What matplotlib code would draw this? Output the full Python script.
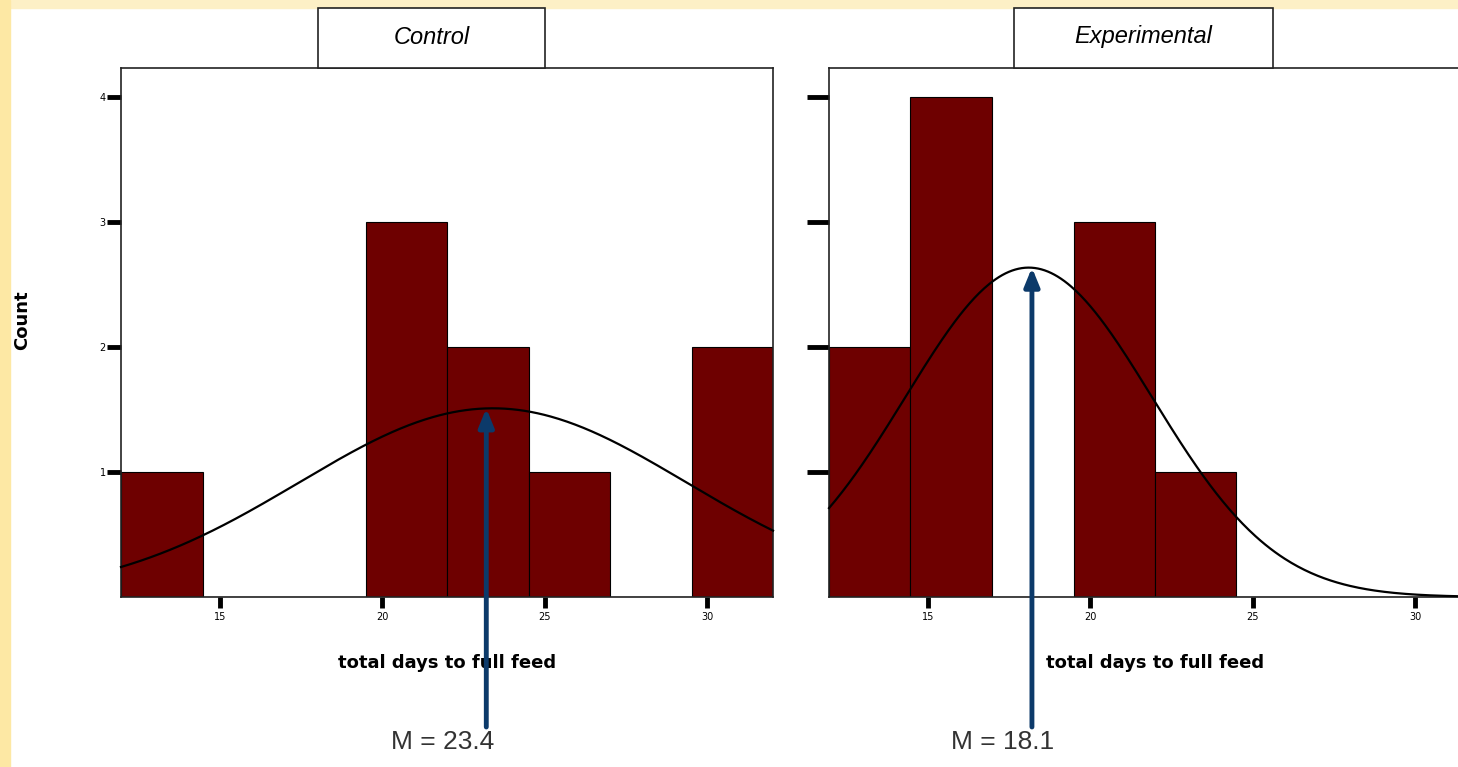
import numpy as np
import matplotlib.pyplot as plt
from matplotlib.patches import Rectangle

# histogram bins (days) shared by both groups
bin_edges = [11.95, 14.46, 16.97, 19.48, 21.99, 24.5, 27.01, 29.52, 32.03]
groups = ["Control", "Experimental"]
counts = {
    "Control": [1, 0, 0, 3, 2, 1, 0, 2],
    "Experimental": [2, 4, 0, 3, 1, 0, 0, 0],
}
means = {"Control": 23.4, "Experimental": 18.1}
sds = {"Control": 5.97, "Experimental": 3.8}
x_ticks = [15, 20, 25, 30]
y_ticks = [1, 2, 3, 4]

W, H = 1458, 767
fig = plt.figure(figsize=(W / 100, H / 100), dpi=100)
fig.patch.set_facecolor("white")

def px_box(x0, y0, x1, y1):
    # pixel box (top-left origin) -> figure fraction rect
    return (x0 / W, 1 - y1 / H, (x1 - x0) / W, (y1 - y0) / H)

# yellow slide border
fig.add_artist(Rectangle((0, 1 - 8 / H), 1, 8 / H, transform=fig.transFigure,
                         color="#fdf0c6", zorder=-5))
fig.add_artist(Rectangle((0, 0), 10 / W, 1, transform=fig.transFigure,
                         color="#fde8a4", zorder=-5))

panel_left = {"Control": 121, "Experimental": 829}
panel_w = 652
header = {"Control": (318, 545), "Experimental": (1014, 1273)}
# where the hand-drawn arrows and "M =" labels sit (data units)
arrow_x = {"Control": 23.2, "Experimental": 18.2}
label_x = {"Control": 21.85, "Experimental": 17.3}

bar_color = "#6e0000"
arrow_color = "#0c3a6a"

for g in groups:
    x0 = panel_left[g]
    ax = fig.add_axes(px_box(x0, 68, x0 + panel_w, 597))
    widths = np.diff(bin_edges)
    ax.bar(bin_edges[:-1], counts[g], width=widths, align="edge",
           color=bar_color, edgecolor="black", linewidth=0.8, zorder=2)

    xs = np.linspace(bin_edges[0], bin_edges[-1], 400)
    n = sum(counts[g])
    bw = widths.mean()
    pdf = np.exp(-0.5 * ((xs - means[g]) / sds[g]) ** 2) / (sds[g] * np.sqrt(2 * np.pi))
    curve = n * bw * pdf
    ax.plot(xs, curve, color="black", linewidth=1.6, zorder=3, clip_on=False)

    ax.set_xlim(bin_edges[0], bin_edges[-1])
    ax.set_ylim(0, 4.232)
    ax.set_xticks(x_ticks)
    ax.set_xticklabels([str(t) for t in x_ticks], fontsize=7)
    ax.set_yticks(y_ticks)
    if g == "Control":
        ax.set_yticklabels([str(t) for t in y_ticks], fontsize=7)
        ax.tick_params(axis="y", length=10, width=3.5, pad=1)
    else:
        ax.set_yticklabels([])
        ax.tick_params(axis="y", length=16, width=3.5, pad=1)
    ax.tick_params(axis="x", length=8, width=3.5, pad=3)
    for s in ax.spines.values():
        s.set_linewidth(1.2)
        s.set_color("#222222")

    ax.text(0.5, -0.125, "total days to full feed", transform=ax.transAxes,
            ha="center", va="center", fontsize=13, fontweight="bold",
            family="DejaVu Sans")

    peak = curve.max()
    ax.annotate("", xy=(arrow_x[g], peak), xytext=(arrow_x[g], -1.04),
                xycoords="data", textcoords="data", annotation_clip=False,
                arrowprops=dict(arrowstyle="-|>,head_length=1.1,head_width=0.45",
                                color=arrow_color, linewidth=3.5, shrinkA=0, shrinkB=0),
                zorder=5)
    ax.text(label_x[g], -1.16, "M = %.1f" % means[g], ha="center", va="center",
            fontsize=19, family="Liberation Sans", color="#333333", clip_on=False)

    hx0, hx1 = header[g]
    fig.add_artist(Rectangle(px_box(hx0, 8, hx1, 68)[:2], (hx1 - hx0) / W, 60 / H,
                             transform=fig.transFigure, facecolor="white",
                             edgecolor="#222222", linewidth=1.2))
    fig.text((hx0 + hx1) / 2 / W, 1 - 37 / H, g, ha="center", va="center",
             fontsize=17, style="italic", family="Liberation Sans")

fig.text(22 / W, 1 - 320 / H, "Count", rotation=90, ha="center", va="center",
         fontsize=13, fontweight="bold", family="DejaVu Sans")

fig.savefig("out.png", dpi=100)
